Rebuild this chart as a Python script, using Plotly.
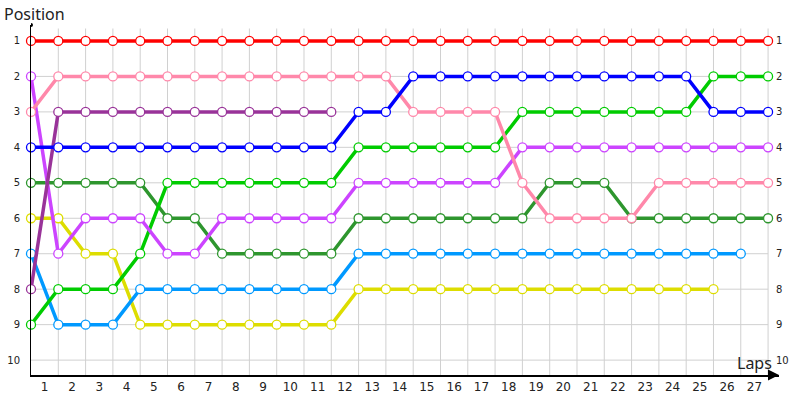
import plotly.graph_objects as go

laps = list(range(0, 28))

red = [1] * 28
blue = [4] * 12 + [3, 3] + [2] * 11 + [3, 3, 3]
pink = [3] + [2] * 13 + [3, 3, 3, 3] + [5, 6, 6, 6, 6] + [5] * 5
green = [9, 8, 8, 8, 7] + [5] * 7 + [4] * 6 + [3] * 7 + [2, 2, 2]
violet = [2, 7, 6, 6, 6, 7, 7] + [6] * 5 + [5] * 6 + [4] * 10
purple = [8] + [3] * 11
darkgreen = [5] * 5 + [6, 6] + [7] * 5 + [6] * 7 + [5, 5, 5] + [6] * 6
lightblue = [7, 9, 9, 9] + [8] * 8 + [7] * 15
yellow = [6, 6, 7, 7] + [9] * 8 + [8] * 14

series = [
    ("red", red, "#ff0000"),
    ("yellow", yellow, "#dddd00"),
    ("lightblue", lightblue, "#0099ff"),
    ("darkgreen", darkgreen, "#2e962e"),
    ("green", green, "#00cc00"),
    ("violet", violet, "#cc44ff"),
    ("purple", purple, "#993399"),
    ("pink", pink, "#ff88aa"),
    ("blue", blue, "#0000ff"),
]

positions = list(range(1, 11))
lap_labels = [str(i) for i in range(1, 28)]

fig = go.Figure()
for name, vals, col in series:
    fig.add_trace(go.Scatter(
        x=laps[:len(vals)], y=vals, mode="lines+markers", name=name,
        line=dict(color=col, width=3.5),
        marker=dict(symbol="circle", size=9, color="white",
                    line=dict(color=col, width=1.3)),
        showlegend=False, hoverinfo="skip", cliponaxis=False,
    ))

shapes = []
for p in positions:
    shapes.append(dict(type="line", xref="x", yref="y", x0=0, x1=27, y0=p, y1=p,
                       line=dict(color="#d0d0d0", width=1), layer="below"))
for l in range(1, 28):
    shapes.append(dict(type="line", xref="x", yref="paper", x0=l, x1=l, y0=0, y1=0.99,
                       line=dict(color="#d0d0d0", width=1), layer="below"))
# dot at top of y axis
shapes.append(dict(type="circle", xref="x", yref="paper", xsizemode="pixel", ysizemode="pixel",
                   xanchor=0, yanchor=1, x0=-2, x1=2, y0=-2, y1=2,
                   fillcolor="black", line=dict(color="black", width=0)))

annotations = []
for p in positions:
    annotations.append(dict(x=27, y=p, xref="x", yref="y", text=str(p), showarrow=False,
                            xanchor="left", xshift=6, font=dict(size=10, color="#222",
                            family="DejaVu Sans")))
annotations.append(dict(x=1, y=0, xref="paper", yref="paper", ax=-12, ay=0, text="",
                        showarrow=True, arrowhead=2, arrowsize=1.1, arrowwidth=2,
                        arrowcolor="black"))
annotations.append(dict(x=0, y=1, xref="paper", yref="paper", text="Position", showarrow=False,
                        xanchor="left", yanchor="bottom", xshift=-29, yshift=-2,
                        font=dict(size=16, color="#222", family="Noto Sans")))
annotations.append(dict(x=1, y=0, xref="paper", yref="paper", text="Laps", showarrow=False,
                        xanchor="right", yanchor="bottom", xshift=-5, yshift=-1,
                        font=dict(size=16, color="#222", family="Noto Sans")))

fig.update_layout(
    width=800, height=400,
    margin=dict(l=31, r=21, t=25, b=25),
    plot_bgcolor="white", paper_bgcolor="white",
    shapes=shapes, annotations=annotations,
    xaxis=dict(range=[0, 27.4], tickvals=[i - 0.5 for i in range(1, 28)], ticktext=lap_labels,
               showgrid=False, zeroline=False, showline=True, linecolor="black", linewidth=2,
               ticks="", automargin=False,
               tickfont=dict(size=12, color="#222", family="DejaVu Sans")),
    yaxis=dict(range=[10.42, 0.55], tickvals=positions, ticktext=[str(p) for p in positions],
               showgrid=False, zeroline=False, showline=True, linecolor="black", linewidth=1,
               ticks="", ticklabelstandoff=8, automargin=False,
               tickfont=dict(size=10, color="#222", family="DejaVu Sans")),
)

fig.write_html("out.html", post_script="document.body.style.margin='0';",
               config={"displayModeBar": False})
